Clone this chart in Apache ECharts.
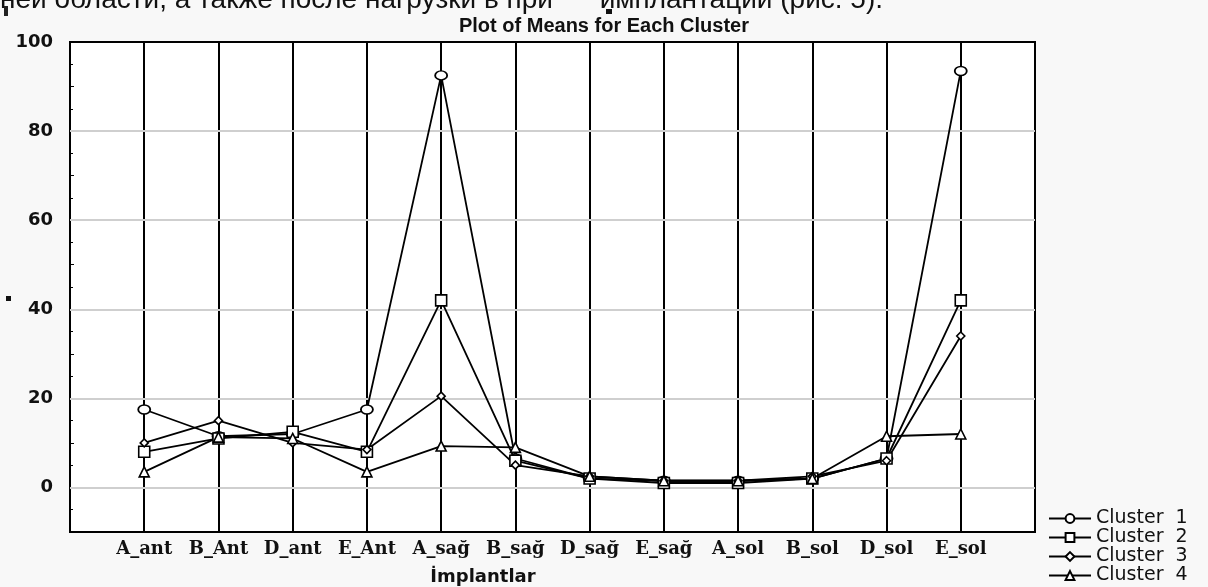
<html>
<head>
<meta charset="utf-8">
<title>Plot of Means for Each Cluster</title>
<script src="https://cdn.jsdelivr.net/npm/echarts@6/dist/echarts.min.js"></script>
<style>
    html, body { margin: 0; padding: 0; background: #f8f8f8; }
    #chart { width: 1208px; height: 587px; }
</style>
</head>
<body>
<div id="chart"></div>
<script>
    // categories (blank ends give the padding left/right of the first/last implant)
    var implants = ['A_ant', 'B_Ant', 'D_ant', 'E_Ant', 'A_sağ', 'B_sağ', 'D_sağ', 'E_sağ', 'A_sol', 'B_sol', 'D_sol', 'E_sol'];
    var cluster1 = [17.5, 11.5, 12, 17.5, 92.5, 6.5, 2, 1.5, 1.5, 2, 6.5, 93.5];
    var cluster2 = [8, 11, 12.5, 8, 42, 6, 2, 1, 1, 2, 6.5, 42];
    var cluster3 = [10, 15, 10, 8.5, 20.5, 5, 2.5, 1.5, 1.5, 2.5, 6, 34];
    var cluster4 = [3.5, 11.3, 11, 3.5, 9.3, 9, 2.5, 1.5, 1.5, 2, 11.5, 12];
    var gridValues = [0, 20, 40, 60, 80];
    var yLabels = [0, 20, 40, 60, 80, 100];

    var cats = [''].concat(implants).concat([' ']);

    function pairs(vals) {
        return vals.map(function (v, i) { return [implants[i], v]; });
    }

    var markers = [
        { name: 'Cluster  1', data: cluster1, symbol: 'circle', size: [12, 9] },
        { name: 'Cluster  2', data: cluster2, symbol: 'rect', size: 11 },
        { name: 'Cluster  3', data: cluster3, symbol: 'diamond', size: 8 },
        { name: 'Cluster  4', data: cluster4, symbol: 'triangle', size: 10 }
    ];

    var series = markers.map(function (m, idx) {
        var s = {
            name: m.name,
            type: 'line',
            data: pairs(m.data),
            symbol: m.symbol,
            symbolSize: m.size,
            showAllSymbol: true,
            z: 5,
            lineStyle: { color: '#000', width: 1.8 },
            itemStyle: { color: '#fff', borderColor: '#000', borderWidth: 1.6 },
            emphasis: { disabled: true }
        };
        if (idx == 0) {
            // light gray horizontal grid lines
            s.markLine = {
                silent: true,
                symbol: 'none',
                label: { show: false },
                z: 1,
                lineStyle: { color: '#cfcfcf', width: 2, type: 'solid' },
                data: gridValues.map(function (v) { return { yAxis: v }; })
            };
        }
        return s;
    });

    var myChart = echarts.init(document.getElementById('chart'), null, { width: 1208, height: 587 });
    var option = {
        backgroundColor: '#f8f8f8',
        animation: false,
        title: {
            text: 'Plot of Means for Each Cluster',
            left: 599,
            textAlign: 'center',
            top: 11,
            textStyle: { fontFamily: 'Liberation Sans', fontSize: 20, fontWeight: 'bold', color: '#111' }
        },
        grid: {
            left: 70, right: 173, top: 42, bottom: 55,
            show: true,
            backgroundColor: '#fff',
            borderColor: '#000',
            borderWidth: 2
        },
        legend: {
            orient: 'vertical',
            left: 1048,
            top: 509,
            padding: 0,
            itemGap: 0,
            itemWidth: 42,
            itemHeight: 11,
            selectedMode: false,
            textStyle: { fontFamily: 'DejaVu Sans', fontSize: 19, color: '#111' },
            data: markers.map(function (m) { return m.name; })
        },
        xAxis: {
            type: 'category',
            data: cats,
            boundaryGap: false,
            axisLine: { lineStyle: { color: '#000', width: 2 } },
            axisTick: { show: false },
            axisLabel: {
                interval: 0,
                margin: 8,
                fontFamily: 'DejaVu Serif',
                fontSize: 18,
                fontWeight: 'bold',
                color: '#111'
            },
            splitLine: { show: true, lineStyle: { color: '#000', width: 2 } }
        },
        yAxis: {
            type: 'value',
            min: -10,
            max: 100,
            interval: 10,
            axisLine: { show: true, lineStyle: { color: '#000', width: 2 } },
            axisTick: { show: true, inside: true, length: 4, lineStyle: { color: '#000' } },
            minorTick: { show: true, splitNumber: 2, length: 3, lineStyle: { color: '#000' } },
            splitLine: { show: false },
            axisLabel: {
                margin: 17,
                fontFamily: 'DejaVu Sans',
                fontSize: 18,
                fontWeight: 'bold',
                color: '#111',
                formatter: function (v) {
                    return yLabels.indexOf(v) >= 0 ? String(v) : '';
                }
            }
        },
        graphic: [
            {
                type: 'text',
                x: 0,
                y: 14,
                style: {
                    text: 'ней области, а также после нагрузки в при      имплантации (рис. 5).',
                    font: '28px "Liberation Sans"',
                    fill: '#111',
                    verticalAlign: 'bottom'
                }
            },
            { type: 'rect', shape: { x: 606, y: 9, width: 6, height: 5 }, style: { fill: '#111' } },
            { type: 'rect', shape: { x: 4, y: 6, width: 4, height: 10 }, style: { fill: '#222' } },
            { type: 'rect', shape: { x: 6, y: 296, width: 5, height: 5 }, style: { fill: '#111' } },
            {
                type: 'text',
                x: 483,
                y: 577,
                style: {
                    text: 'İmplantlar',
                    font: 'bold 18px "DejaVu Sans"',
                    fill: '#111',
                    align: 'center',
                    verticalAlign: 'middle'
                }
            }
        ],
        series: series
    };
    myChart.setOption(option);
</script>
</body>
</html>
